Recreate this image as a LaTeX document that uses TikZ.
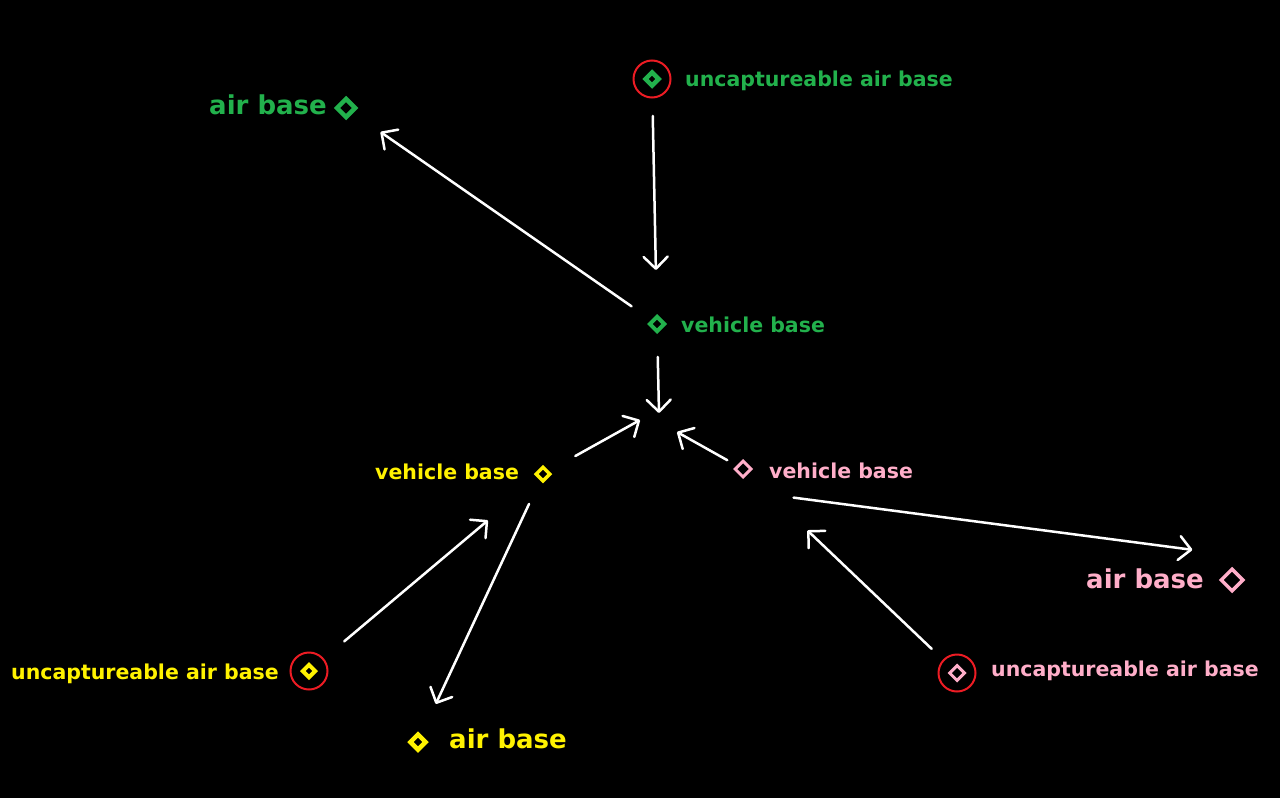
\documentclass[tikz,border=0pt]{standalone}
\usepackage{fontspec}
\setmainfont{DejaVu Sans}
\usetikzlibrary{arrows.meta,shapes.geometric}
\definecolor{paintgreen}{RGB}{34,177,76}
\definecolor{paintyellow}{RGB}{255,242,0}
\definecolor{paintpink}{RGB}{255,174,201}
\definecolor{paintred}{RGB}{237,28,36}

\begin{document}
\begin{tikzpicture}[x=1pt, y=-1pt]
  \tikzset{base/.style={diamond, draw, fill=none, inner sep=0pt, minimum size=#1}}
  \tikzset{ring/.style={circle, draw=paintred, line width=2pt, minimum size=37pt, inner sep=0pt}}
  \tikzset{lbl/.style={inner sep=0pt, anchor=base west, font=\bfseries\fontsize{20.5}{24}\selectfont}}
  \tikzset{biglbl/.style={inner sep=0pt, anchor=base west, font=\bfseries\fontsize{26}{30}\selectfont}}
  \fill[black] (0,0) rectangle (1280,798);

  % green
  \node[ring] (gu) at (652,79) {};
  \node[base=15pt, draw=paintgreen, line width=4.5pt] (gud) at (652,79) {};
  \node[lbl, paintgreen] (gul) at (685,86) {uncaptureable air base};
  \node[biglbl, paintgreen] (gal) at (209,114) {air base};
  \node[base=20pt, draw=paintgreen, line width=4.5pt] (ga) at (346,108) {};
  \node[base=16pt, draw=paintgreen, line width=4pt] (gv) at (657,324) {};
  \node[lbl, paintgreen] (gvl) at (681,332) {vehicle base};

  % yellow
  \node[lbl, paintyellow] (yvl) at (375,479) {vehicle base};
  \node[base=15pt, draw=paintyellow, line width=3.5pt] (yv) at (543,474) {};
  \node[lbl, paintyellow] (yul) at (11,679) {uncaptureable air base};
  \node[ring] (yu) at (309,671) {};
  \node[base=14pt, draw=paintyellow, line width=4pt] (yud) at (309,671) {};
  \node[base=17pt, draw=paintyellow, line width=4.5pt] (ya) at (418,742) {};
  \node[biglbl, paintyellow] (yal) at (449,748) {air base};

  % pink
  \node[base=17pt, draw=paintpink, line width=3pt] (pv) at (743,469) {};
  \node[lbl, paintpink] (pvl) at (769,478) {vehicle base};
  \node[biglbl, paintpink] (pal) at (1086,588) {air base};
  \node[base=23pt, draw=paintpink, line width=3.5pt] (pa) at (1232,580) {};
  \node[ring] (pu) at (957,673) {};
  \node[base=16pt, draw=paintpink, line width=3pt] (pud) at (957,673) {};
  \node[lbl, paintpink] (pul) at (991,676) {uncaptureable air base};

  % middle
  \coordinate (hubG) at (659,413);
  \coordinate (hubY) at (640,420);
  \coordinate (hubP) at (677,432);

  \tikzset{myarrow/.style={white, line width=2.5pt, line cap=round, -{Straight Barb[length=12pt, width=24pt, line cap=round, line join=round]}}}
  \path (gv.center) edge [myarrow, shorten <=31pt, shorten >=42pt] (ga.center);
  \path (gu.center) edge [myarrow, shorten <=37pt, shorten >=54pt] (gv.center);
  \path (gv.center) edge [myarrow, shorten <=33pt] (hubG);
  \path (yv.center) edge [myarrow, shorten <=37pt] (hubY);
  \path (pv.center) edge [myarrow, shorten <=18pt] (hubP);
  \path (yu.center) edge [myarrow, shorten <=46pt, shorten >=72pt] (yv.center);
  \path (yv.center) edge [myarrow, shorten <=33pt, shorten >=42pt] (ya.center);
  \path ([yshift=-22pt]pv.center) edge [myarrow, shorten <=51pt, shorten >=40pt] ([yshift=25pt]pa.center);
  \path (pu.center) edge [myarrow, shorten <=35pt, shorten >=89pt] (pv.center);
\end{tikzpicture}
\end{document}
